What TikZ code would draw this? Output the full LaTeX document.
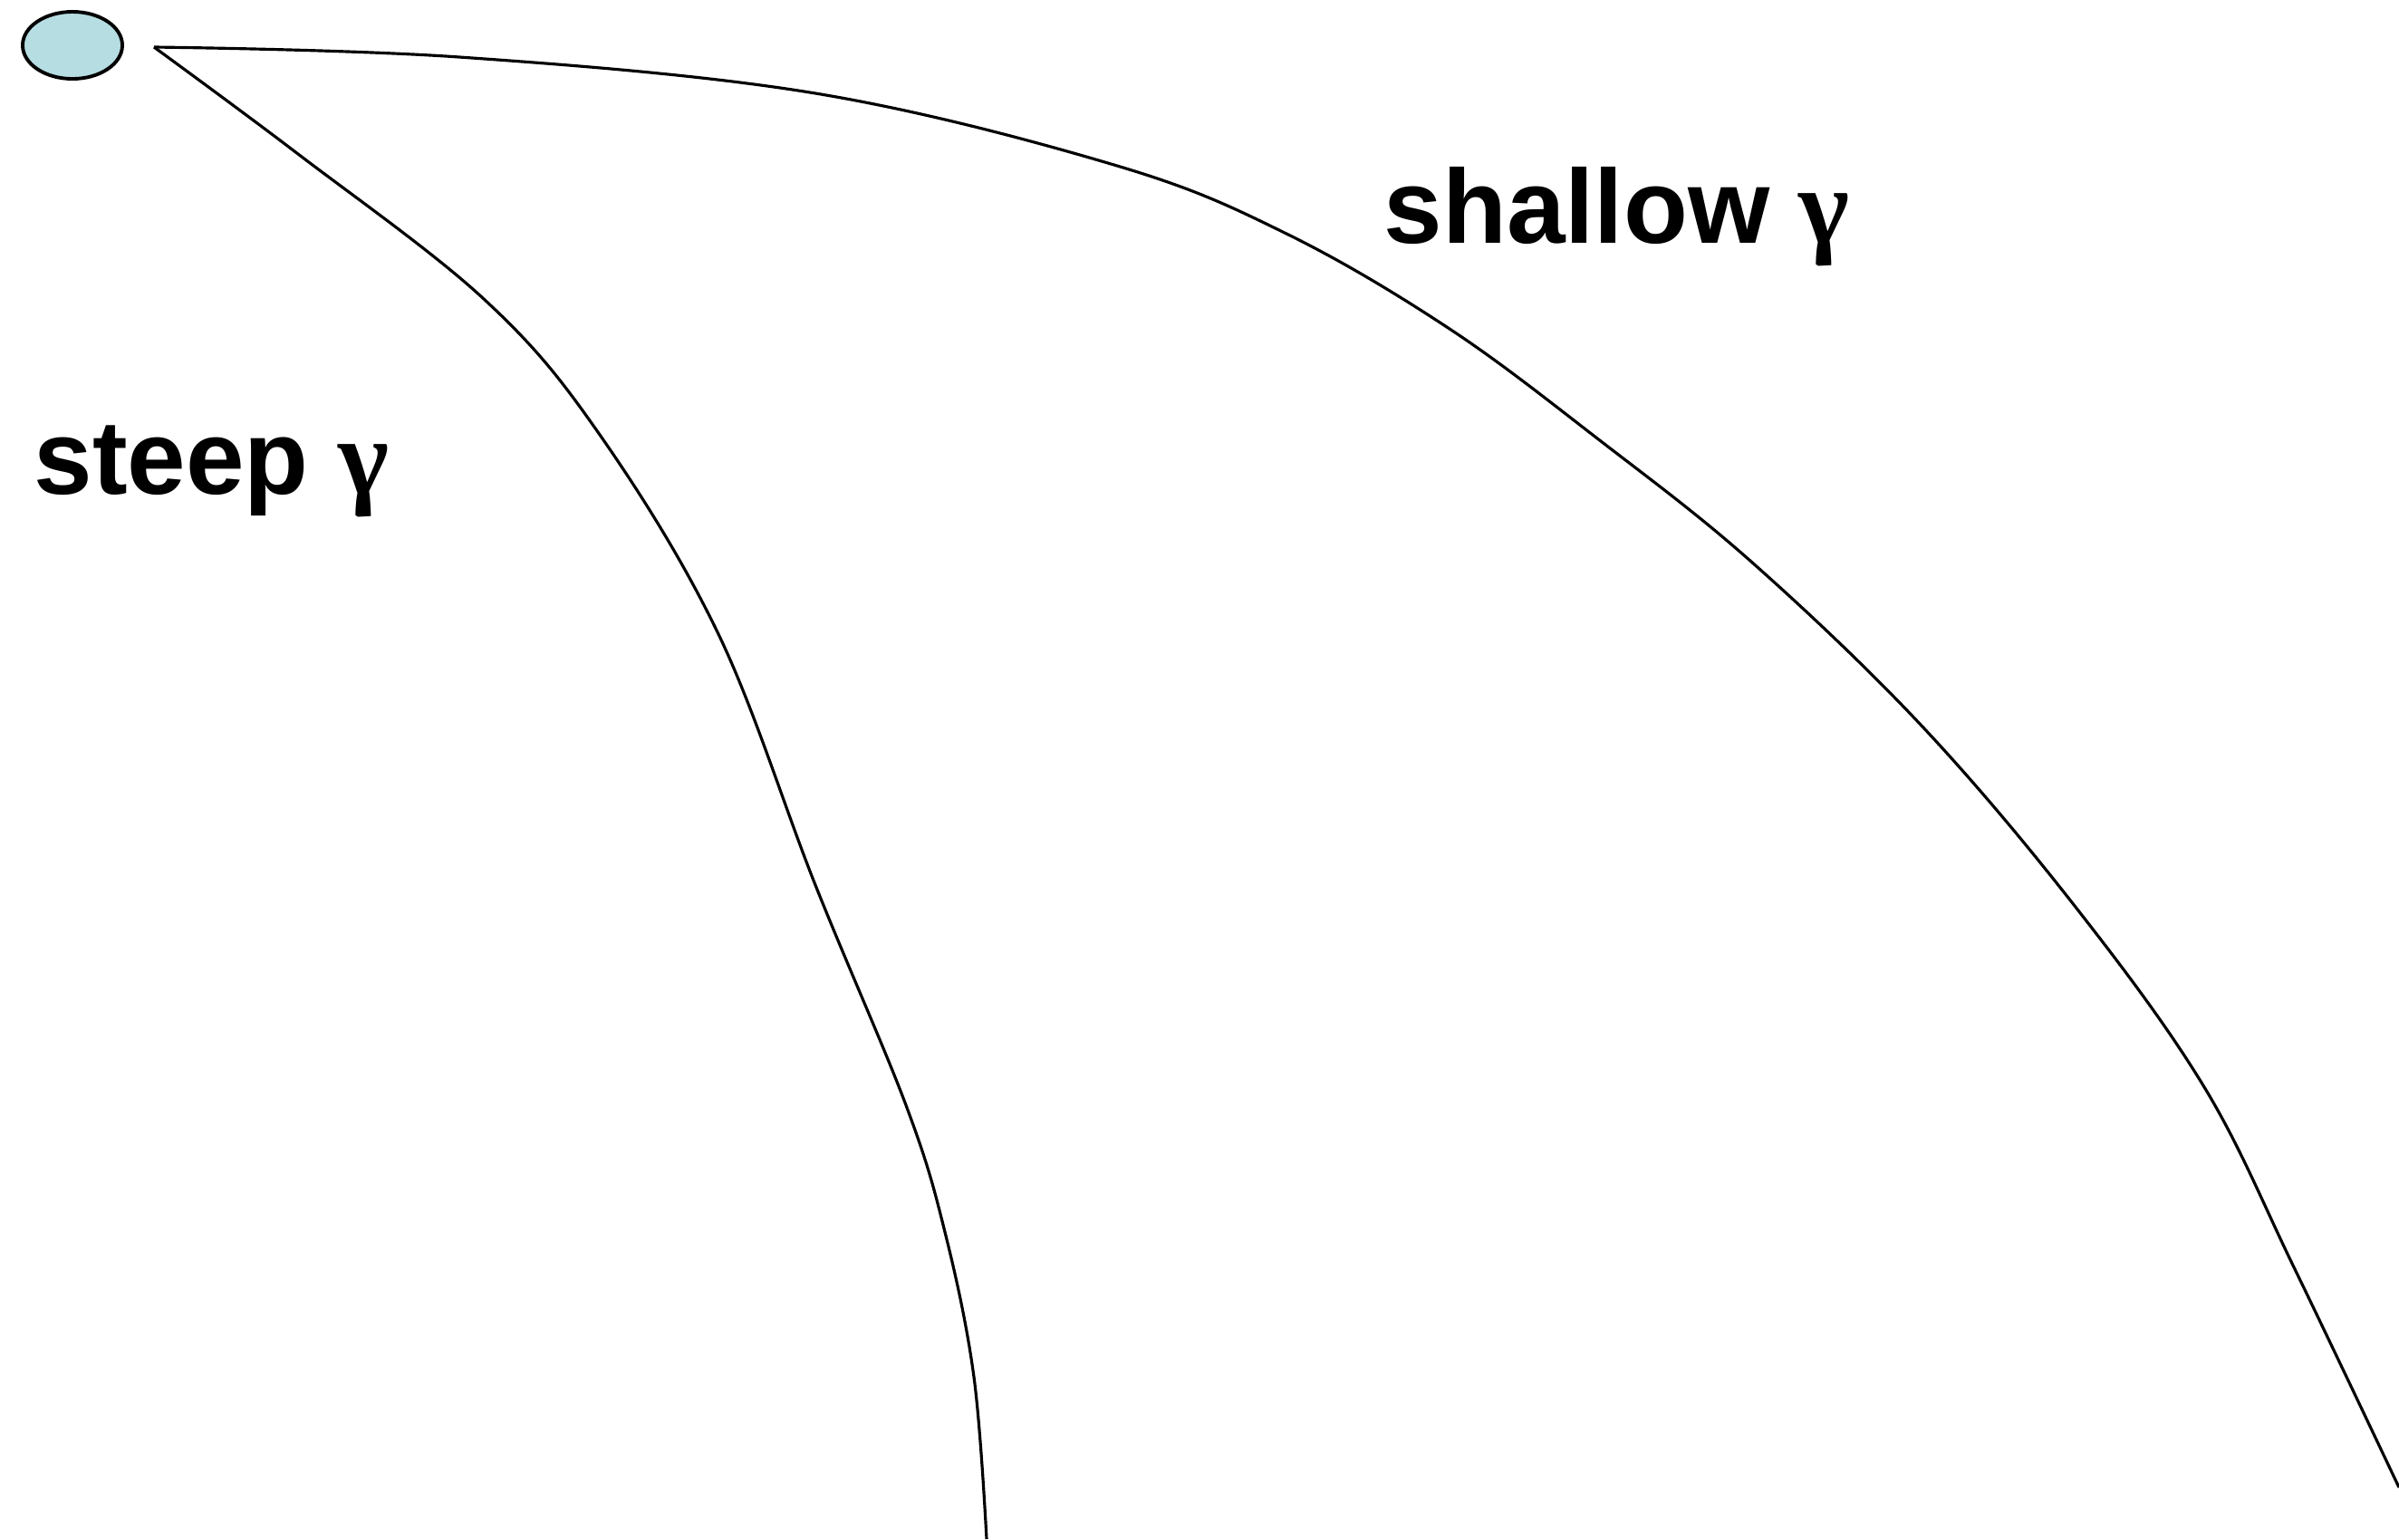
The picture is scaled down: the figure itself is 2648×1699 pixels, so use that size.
\documentclass[tikz,border=0pt]{standalone}
\usepackage{fontspec}
\setmainfont{Liberation Sans}
\newfontfamily\greekfont{Liberation Serif}
\definecolor{srcfill}{HTML}{B6DDE1}
\usetikzlibrary{shapes.geometric}
\tikzset{
  curve/.style={draw=black, line width=0.9pt, line join=round},
  lbl/.style={anchor=base west, inner sep=0pt, font=\fontsize{33}{38}\selectfont\bfseries},
  srcnode/.style={ellipse, draw=black, line width=1.1pt, fill=srcfill, minimum width=1.1cm, minimum height=0.74cm, inner sep=0pt}
}
\newcommand{\gam}{{\greekfont\fontsize{34}{38}\selectfont γ}}
\begin{document}
\begin{tikzpicture}[x=0.01cm, y=-0.01cm]
\useasboundingbox (0,0) rectangle (2648,1699);
\node[srcnode] (src) at (80,50) {};
\coordinate (apex) at (170,52);
\coordinate (steepend) at (1089,1699);
\coordinate (shallowend) at (2648,1642);
\draw[curve] plot[smooth, tension=0.6] coordinates {(apex) (329,170) (534,330) (660,477) (793,700) (900,977) (1000,1220) (1043,1360) (1075,1520) (steepend)};
\draw[curve] plot[smooth, tension=0.6] coordinates {(apex) (507,63) (900,103) (1233,183) (1420,258) (1600,363) (1767,487) (1933,620) (2120,800) (2290,1000) (2433,1200) (2533,1401) (shallowend)};
\node[lbl] (steep) at (37,545) {steep \gam};
\node[lbl] (shallow) at (1527,268) {shallow \gam};
\end{tikzpicture}
\end{document}
